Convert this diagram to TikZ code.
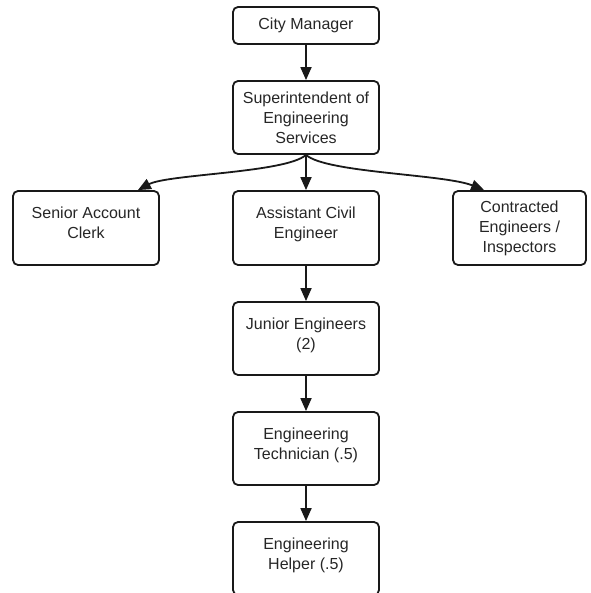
\documentclass[tikz,border=0pt]{standalone}
\usepackage{fontspec}
\setmainfont{Liberation Sans}
\usetikzlibrary{arrows.meta}
\begin{document}
\begin{tikzpicture}[x=1pt,y=-1pt,
  box/.style={draw=black!90, line width=1.8pt, rounded corners=5pt,
    minimum width=146pt, minimum height=73pt, align=center,
    font=\fontsize{16}{20}\selectfont, text=black!85, inner sep=0pt},
  link/.style={draw=black!90, line width=1.8pt,
    -{Triangle[length=13pt,width=11pt]}}]
\useasboundingbox (0,0) rectangle (590,593);
\begin{scope}
\clip (0,0) rectangle (590,593);
\node[box, minimum height=37pt] (cm) at (306,25.5) {City Manager};
\node[box] (sup) at (306,117.5) {Superintendent of\\Engineering\\Services};
\node[box, minimum height=74pt, text depth=10pt] (sac) at (86,228) {Senior Account\\Clerk};
\node[box, minimum height=74pt, text depth=10pt] (ace) at (306,228) {Assistant Civil\\Engineer};
\node[box, minimum width=133pt, minimum height=74pt] (con) at (519.5,228) {Contracted\\Engineers /\\Inspectors};
\node[box, text depth=10pt] (je) at (306,338.5) {Junior Engineers\\(2)};
\node[box, text depth=10pt] (et) at (306,448.5) {Engineering\\Technician (.5)};
\node[box, text depth=10pt] (eh) at (306,558.5) {Engineering\\Helper (.5)};
\end{scope}
\draw[link] (cm.south) -- (sup.north);
\draw[link] (sup.south) .. controls +(-20,18) and +(30,-16) .. ([xshift=-22pt]sac.north east);
\draw[link] (sup.south) -- (ace.north);
\draw[link] (sup.south) .. controls +(20,18) and +(-40,-16) .. ([xshift=32pt]con.north west);
\draw[link] (ace.south) -- (je.north);
\draw[link] (je.south) -- (et.north);
\draw[link] (et.south) -- (eh.north);
\end{tikzpicture}
\end{document}
